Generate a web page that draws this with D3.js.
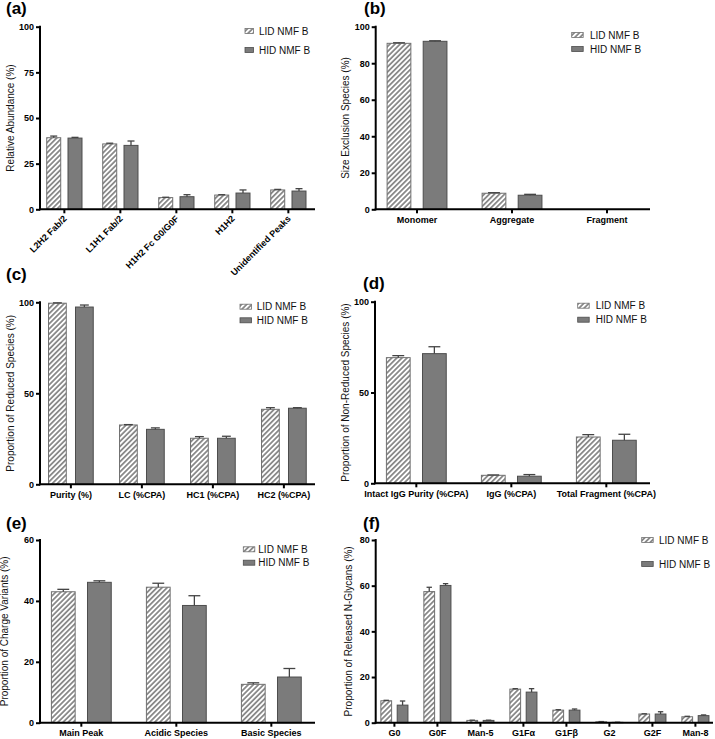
<!DOCTYPE html>
<html><head><meta charset="utf-8">
<script src="https://cdn.jsdelivr.net/npm/d3@7"></script>
<style>body{margin:0;background:#fff}svg{display:block}text{font-family:"Liberation Sans",Arial,sans-serif}</style>
</head><body><svg id="c" width="715" height="739"></svg>
<script>
const seriesNames = ["LID NMF B", "HID NMF B"];

// (a)
const catsA = ["L2H2 Fab/2", "L1H1 Fab/2", "H1H2 Fc G0/G0F", "H1H2", "Unidentified Peaks"];
const lidA = [39.2, 35.8, 6.4, 7.8, 10.6];
const lidErrA = [0.9, 0.4, 0.2, 0.2, 0.3];
const hidA = [39.0, 35.0, 6.9, 8.9, 10.0];
const hidErrA = [0.4, 2.4, 1.1, 1.7, 1.3];
const ticksA = [0, 25, 50, 75, 100];

// (b)
const catsB = ["Monomer", "Aggregate", "Fragment"];
const lidB = [90.9, 8.8, 0];
const lidErrB = [0.3, 0.3, 0];
const hidB = [92.0, 7.7, 0];
const hidErrB = [0.3, 0.5, 0];
const ticksB = [0, 20, 40, 60, 80, 100];

// (c)
const catsC = ["Purity (%)", "LC (%CPA)", "HC1 (%CPA)", "HC2 (%CPA)"];
const lidC = [99.5, 32.6, 25.3, 41.2];
const lidErrC = [0.2, 0.2, 0.9, 0.9];
const hidC = [97.4, 30.2, 25.3, 41.8];
const hidErrC = [1.1, 0.8, 1.1, 0.3];
const ticksC = [0, 50, 100];

// (d)
const catsD = ["Intact IgG Purity (%CPA)", "IgG (%CPA)", "Total Fragment (%CPA)"];
const lidD = [69.2, 4.4, 25.5];
const lidErrD = [1.1, 0.2, 1.3];
const hidD = [71.4, 3.9, 23.7];
const hidErrD = [3.8, 0.9, 3.3];
const ticksD = [0, 50, 100];

// (e)
const catsE = ["Main Peak", "Acidic Species", "Basic Species"];
const lidE = [43.0, 44.5, 12.6];
const lidErrE = [0.8, 1.3, 0.5];
const hidE = [46.1, 38.5, 15.0];
const hidErrE = [0.5, 3.2, 2.8];
const ticksE = [0, 20, 40, 60];

// (f)
const catsF = ["G0", "G0F", "Man-5", "G1F\u03b1", "G1F\u03b2", "G2", "G2F", "Man-8"];
const lidF = [9.6, 57.4, 1.0, 14.7, 5.5, 0.4, 3.8, 2.6];
const lidErrF = [0.2, 1.9, 0.1, 0.2, 0.2, 0.1, 0.1, 0.2];
const hidF = [7.7, 60.1, 1.0, 13.4, 5.5, 0.15, 3.8, 3.1];
const hidErrF = [1.8, 0.8, 0.1, 1.5, 0.5, 0.05, 1.0, 0.3];
const ticksF = [0, 20, 40, 60, 80];

const svg = d3.select("#c");
const defs = svg.append("defs");
const pat = defs.append("pattern").attr("id", "hatch").attr("patternUnits", "userSpaceOnUse")
  .attr("width", 3.6).attr("height", 3.6).attr("patternTransform", "rotate(45)");
pat.append("rect").attr("width", 3.6).attr("height", 3.6).attr("fill", "#fff");
pat.append("line").attr("x1", 0.9).attr("x2", 0.9).attr("y1", 0).attr("y2", 3.6)
  .attr("stroke", "#8a8a8a").attr("stroke-width", 1.8);

const fills = ["url(#hatch)", "#7b7b7b"];
const strokes = ["#707070", "#4d4d4d"];

function panel(p) {
  const g = svg.append("g");
  const n = p.cats.length;
  const r0 = p.axisX - 0.065 * p.step;
  const x = d3.scaleBand().domain(p.cats).range([r0, r0 + n * p.step]).padding(0);
  const xs = d3.scaleBand().domain(seriesNames).range([0, p.step]).paddingInner(0.342).paddingOuter(0.487);
  const y = d3.scaleLinear().domain([0, p.max]).range([p.yBottom, p.yTop]);
  const rows = p.cats.map((c, i) => ({c, v: [p.lid[i], p.hid[i]], e: [p.lidErr[i], p.hidErr[i]]}));

  rows.forEach(r => {
    seriesNames.forEach((s, k) => {
      const bx = x(r.c) + xs(s), bw = xs.bandwidth();
      if (r.v[k] > 0) {
        g.append("rect").attr("x", bx).attr("y", y(r.v[k])).attr("width", bw)
          .attr("height", y(0) - y(r.v[k])).attr("fill", fills[k]).attr("stroke", strokes[k]).attr("stroke-width", 1);
        const top = y(r.v[k] + r.e[k]);
        g.append("line").attr("x1", bx + bw / 2).attr("x2", bx + bw / 2).attr("y1", y(r.v[k])).attr("y2", top)
          .attr("stroke", "#444").attr("stroke-width", 1.3);
        g.append("line").attr("x1", bx + bw / 4).attr("x2", bx + bw * 3 / 4).attr("y1", top).attr("y2", top)
          .attr("stroke", "#444").attr("stroke-width", 1.3);
      }
    });
  });

  // y axis
  const ya = d3.axisLeft(y).tickValues(p.ticks).tickSize(4).tickPadding(2).tickFormat(d3.format("d"));
  const yg = g.append("g").attr("transform", `translate(${p.axisX},0)`).call(ya);
  yg.select(".domain").attr("stroke", "#000").attr("stroke-width", 2).attr("d", `M0,${p.yTop - 1}V${p.yBottom + 1}`);
  yg.selectAll(".tick line").attr("stroke", "#000").attr("stroke-width", 2);
  yg.selectAll(".tick text").attr("font-size", 9).attr("font-weight", "bold").attr("fill", "#000")
    .attr("font-family", '"Liberation Sans",Arial,sans-serif');

  // x axis
  const xa = d3.axisBottom(x).tickSize(4).tickPadding(3);
  const xg = g.append("g").attr("transform", `translate(0,${p.yBottom})`).call(xa);
  xg.select(".domain").attr("stroke", "#000").attr("stroke-width", 2).attr("d", `M${p.axisX - 1},0H${p.axisEnd}`);
  xg.selectAll(".tick line").attr("stroke", "#000").attr("stroke-width", 2);
  const xt = xg.selectAll(".tick text").attr("font-size", 9).attr("font-weight", "bold").attr("fill", "#000")
    .attr("font-family", '"Liberation Sans",Arial,sans-serif');
  if (p.rotate) {
    xt.attr("text-anchor", "end").attr("dy", null).attr("y", null)
      .attr("transform", "translate(3,10) rotate(-45)");
  }

  // y title
  g.append("text").attr("transform", `translate(${p.titleX},${(p.yTop + p.yBottom) / 2}) rotate(-90)`)
    .attr("text-anchor", "middle").attr("font-size", 10).attr("fill", "#111").text(p.yTitle);

  // panel label
  g.append("text").attr("x", p.labX).attr("y", p.labY).attr("font-size", 17).attr("font-weight", "bold")
    .attr("fill", "#000").text(p.label);

  // legend
  seriesNames.forEach((s, k) => {
    const ly = p.leg.y[k];
    g.append("rect").attr("x", p.leg.x).attr("y", ly - 2.5).attr("width", p.leg.w).attr("height", 5)
      .attr("fill", fills[k]).attr("stroke", strokes[k]).attr("stroke-width", 0.8);
    g.append("text").attr("x", p.leg.tx).attr("y", ly).attr("dy", "0.35em").attr("font-size", 10)
      .attr("fill", "#111").text(s);
  });
}

panel({cats: catsA, lid: lidA, lidErr: lidErrA, hid: hidA, hidErr: hidErrA, ticks: ticksA, max: 100,
  axisX: 40, axisEnd: 315, yTop: 26.7, yBottom: 209.3, step: 56, rotate: true,
  yTitle: "Relative Abundance (%)", titleX: 13.5, label: "(a)", labX: 6, labY: 14,
  leg: {x: 245, w: 8.5, tx: 259, y: [31, 50]}});
panel({cats: catsB, lid: lidB, lidErr: lidErrB, hid: hidB, hidErr: hidErrB, ticks: ticksB, max: 100,
  axisX: 375.7, axisEnd: 650, yTop: 26.7, yBottom: 209.3, step: 95,
  yTitle: "Size Exclusion Species (%)", titleX: 348.5, label: "(b)", labX: 364, labY: 14,
  leg: {x: 571.7, w: 11.5, tx: 590, y: [35, 49]}});
panel({cats: catsC, lid: lidC, lidErr: lidErrC, hid: hidC, hidErr: hidErrC, ticks: ticksC, max: 100,
  axisX: 40, axisEnd: 315, yTop: 302.3, yBottom: 484.3, step: 71,
  yTitle: "Proportion of Reduced Species  (%)", titleX: 14, label: "(c)", labX: 6, labY: 280,
  leg: {x: 240, w: 11.5, tx: 256.7, y: [306.7, 320.3]}});
panel({cats: catsD, lid: lidD, lidErr: lidErrD, hid: hidD, hidErr: hidErrD, ticks: ticksD, max: 100,
  axisX: 375, axisEnd: 650, yTop: 301.7, yBottom: 483.3, step: 95,
  yTitle: "Proportion of Non-Reduced Species (%)", titleX: 348.5, label: "(d)", labX: 363, labY: 289,
  leg: {x: 577.7, w: 11.5, tx: 595.7, y: [305.7, 319.7]}});
panel({cats: catsE, lid: lidE, lidErr: lidErrE, hid: hidE, hidErr: hidErrE, ticks: ticksE, max: 60,
  axisX: 40, axisEnd: 315, yTop: 540, yBottom: 722.7, step: 95,
  yTitle: "Proportion of Charge Variants (%)", titleX: 7.5, label: "(e)", labX: 6, labY: 529,
  leg: {x: 243.3, w: 11.5, tx: 258.3, y: [549.3, 562.7]}});
panel({cats: catsF, lid: lidF, lidErr: lidErrF, hid: hidF, hidErr: hidErrF, ticks: ticksF, max: 80,
  axisX: 375.7, axisEnd: 713, yTop: 540, yBottom: 722.7, step: 43,
  yTitle: "Proportion of Released N-Glycans (%)", titleX: 352, label: "(f)", labX: 363, labY: 529,
  leg: {x: 641.7, w: 11.5, tx: 659, y: [540, 564]}});
</script></body></html>
